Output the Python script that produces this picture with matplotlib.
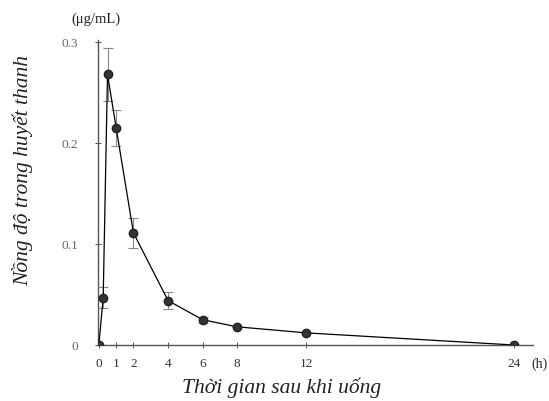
import numpy as np
import matplotlib.pyplot as plt

plt.rcParams['font.family'] = ['Liberation Serif', 'DejaVu Serif']

# thoi gian (h) va nong do (ug/mL)
hours = [0, 0.25, 0.5, 1, 2, 4, 6, 8, 12, 24]
conc = [0.0, 0.047, 0.268, 0.215, 0.111, 0.044, 0.025, 0.018, 0.012, 0.0]
err = [0.0, 0.010, 0.026, 0.018, 0.015, 0.008, 0.003, 0.0, 0.0, 0.0]

xticks = [0, 1, 2, 4, 6, 8, 12, 24]
yticks = [0, 0.1, 0.2, 0.3]
ytick_labels = ['0', '0.1', '0.2', '0.3']

W, H = 549, 401
fig = plt.figure(figsize=(5.49, 4.01), dpi=100)
ax = fig.add_axes([98 / W, 1 - 345 / H, 435 / W, 305 / H])

ax.errorbar(hours, conc, yerr=err, color='black', lw=0.9, elinewidth=0.8,
            ecolor='#888888', capsize=3.5, capthick=0.8,
            marker='o', ms=6, mfc='#333333', mec='#222222', zorder=3)

ax.set_xlim(-0.05, 25.1)
ax.set_ylim(0, 0.302)
ax.set_xticks(xticks)
ax.set_xticklabels([str(t) for t in xticks])
ax.set_yticks(yticks)
ax.set_yticklabels(ytick_labels)
ax.tick_params(direction='inout', length=5, width=0.7, labelsize=9.5, colors='#555555')
ax.tick_params(axis='x', pad=7, labelcolor='#333333')
ax.tick_params(axis='y', pad=12, labelcolor='#666666')

for s in ['top', 'right']:
    ax.spines[s].set_visible(False)
for s in ['left', 'bottom']:
    ax.spines[s].set_color('#555555')
    ax.spines[s].set_linewidth(1.0)

fig.text(282 / W, 1 - 388 / H, 'Thời gian sau khi uống', fontsize=15.5, style='italic',
         color='#222222', ha='center', va='center')
fig.text(23 / W, 1 - 171 / H, 'Nồng độ trong huyết thanh', fontsize=15.5, style='italic',
         color='#222222', ha='center', va='center', rotation=90)

fig.text(96 / W, 1 - 19 / H, '(μg/mL)', fontsize=10.5, color='#222222',
         ha='center', va='center')
fig.text(540 / W, 1 - 364 / H, '(h)', fontsize=10, color='#222222',
         ha='center', va='center')

fig.savefig('out.png', dpi=100)
